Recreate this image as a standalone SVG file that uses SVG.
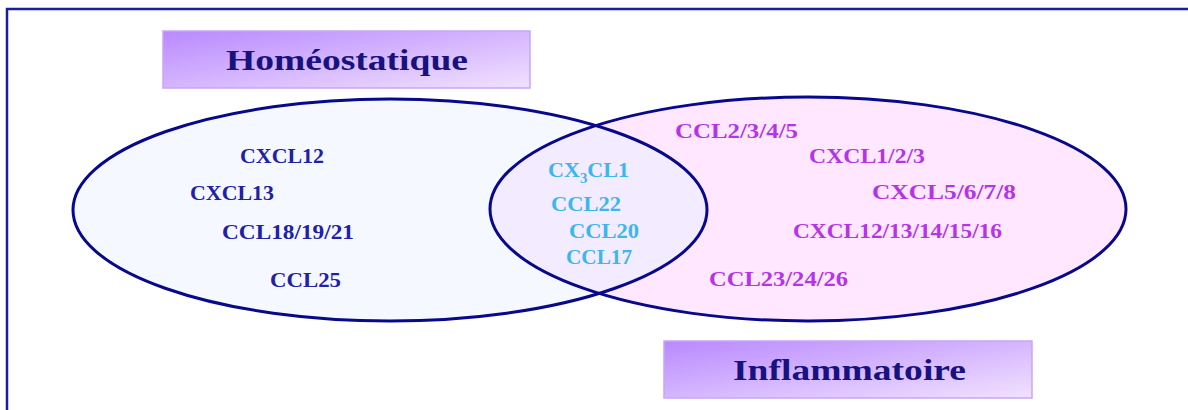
<svg xmlns="http://www.w3.org/2000/svg" width="1188" height="410" viewBox="0 0 1188 410">
<defs>
<linearGradient id="boxGrad" x1="0" y1="0" x2="1" y2="1">
<stop offset="0" stop-color="#b989ff"/>
<stop offset="1" stop-color="#f1e2ff"/>
</linearGradient>
<clipPath id="clipLeft"><ellipse cx="390" cy="210" rx="317" ry="111"/></clipPath>
<style>
.frame{fill:none;stroke:#1c1ca0;stroke-width:2.5}
.box{fill:url(#boxGrad);stroke:#c7a6f5;stroke-width:1.5}
.title{font-family:"Liberation Serif","DejaVu Serif",serif;font-weight:bold;font-size:29px;fill:#17127f}
.ring{fill:none;stroke:#08088c;stroke-width:3}
.lbl{font-family:"Liberation Serif","DejaVu Serif",serif;font-weight:bold;font-size:21px}
.homeo{fill:#2020a8}
.mid{fill:#3cb6ee}
.infl{fill:#b434e6}
</style>
</defs>
<rect class="frame" x="7" y="9" width="1200" height="420"/>
<g id="sets">
<ellipse cx="390" cy="210" rx="317" ry="111" fill="#f5f8ff"/>
<ellipse cx="808" cy="209" rx="318" ry="112" fill="#ffe7ff"/>
<ellipse cx="808" cy="209" rx="318" ry="112" fill="#f3ebff" clip-path="url(#clipLeft)"/>
<ellipse class="ring" cx="390" cy="210" rx="317" ry="111"/>
<ellipse class="ring" cx="808" cy="209" rx="318" ry="112"/>
</g>
<g id="homeostatique">
<rect class="box" x="163" y="31" width="367" height="57"/>
<text class="title" x="226" y="70" textLength="242" lengthAdjust="spacingAndGlyphs">Homéostatique</text>
</g>
<g id="inflammatoire">
<rect class="box" x="664" y="341" width="368" height="57"/>
<text class="title" x="733" y="380" textLength="233" lengthAdjust="spacingAndGlyphs">Inflammatoire</text>
</g>
<g id="homeo-labels" class="lbl homeo">
<text x="240" y="163" textLength="84" lengthAdjust="spacingAndGlyphs">CXCL12</text>
<text x="190" y="200" textLength="84" lengthAdjust="spacingAndGlyphs">CXCL13</text>
<text x="222" y="239" textLength="132" lengthAdjust="spacingAndGlyphs">CCL18/19/21</text>
<text x="270" y="287" textLength="71" lengthAdjust="spacingAndGlyphs">CCL25</text>
</g>
<g id="shared-labels" class="lbl mid">
<text x="548" y="177" textLength="81" lengthAdjust="spacingAndGlyphs">CX<tspan font-size="14" dy="6">3</tspan><tspan dy="-6">CL1</tspan></text>
<text x="551" y="211" textLength="70" lengthAdjust="spacingAndGlyphs">CCL22</text>
<text x="569" y="238" textLength="70" lengthAdjust="spacingAndGlyphs">CCL20</text>
<text x="566" y="264" textLength="66" lengthAdjust="spacingAndGlyphs">CCL17</text>
</g>
<g id="infl-labels" class="lbl infl">
<text x="675" y="138" textLength="123" lengthAdjust="spacingAndGlyphs">CCL2/3/4/5</text>
<text x="809" y="163" textLength="116" lengthAdjust="spacingAndGlyphs">CXCL1/2/3</text>
<text x="872" y="199" textLength="144" lengthAdjust="spacingAndGlyphs">CXCL5/6/7/8</text>
<text x="793" y="238" textLength="209" lengthAdjust="spacingAndGlyphs">CXCL12/13/14/15/16</text>
<text x="709" y="286" textLength="139" lengthAdjust="spacingAndGlyphs">CCL23/24/26</text>
</g>
</svg>
